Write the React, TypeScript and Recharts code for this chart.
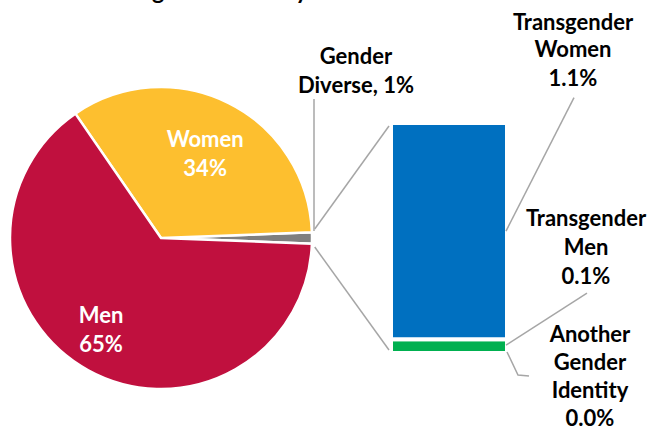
import React from 'react';
import { PieChart, Pie, Cell, BarChart, Bar, XAxis, YAxis, LabelList } from 'recharts';

// ---------- data ----------
const titleLead = 'Student';
const titleRest = 'gender identity';

const pieCategories = ['Gender Diverse', 'Women', 'Men'];
const pieValues = [1.2, 34, 64.8];
const pieValueLabels = ['1%', '34%', '65%'];
const pieColors = ['#7F7F7F', '#FDBF2F', '#C0103E'];

const barCategories = ['Another Gender Identity', 'Transgender Men', 'Transgender Women'];
const barKeys = ['another', 'transMen', 'transWomen'];
const barValues = [0.0, 0.07, 1.1];
const barValueLabels = ['0.0%', '0.1%', '1.1%'];
const barColors = ['#7F7F7F', '#00B050', '#0070C0'];

// ---------- layout ----------
const W = 651;
const H = 430;
const FONT = "Lato, 'Open Sans', sans-serif";
const FS = 22;
const PIE_CX = 161;
const PIE_CY = 238;
const PIE_R = 151;
const BAR_MARGIN = { top: 123, right: 144, bottom: 77, left: 391 };
const LINE = '#A6A6A6';
const RAD = Math.PI / 180;

const pieTotal = pieValues.reduce((a, b) => a + b, 0);
const halfAngle = (pieValues[0] / pieTotal) * 180;
const pieData = pieCategories.map((name, i) => ({ name, value: pieValues[i] }));

const barTotal = barValues.reduce((a, b) => a + b, 0);
const barRow: Record<string, any> = { name: 'Gender Diverse' };
barKeys.forEach((k, i) => {
  barRow[k] = barValues[i];
});
const barData = [barRow];

const LABEL_R = [0, 94, 110];
const LABEL_SHIFT = [
  [0, 0],
  [2, 1],
  [-7, -4],
];

const txt = (x: number, y: number, s: string, fill = '#000', size = FS, key?: any) => (
  <text
    key={key}
    x={x}
    y={y}
    textAnchor="middle"
    fill={fill}
    fontFamily={FONT}
    fontWeight={700}
    fontSize={size}
  >
    {s}
  </text>
);

const renderPieLabel = (props: any) => {
  const { cx, cy, midAngle, outerRadius, index } = props;
  if (index === 0) {
    const ox = cx + outerRadius + 2;
    const words = pieCategories[0].split(' ');
    return (
      <g>
        <line x1={ox} y1={cy - 7} x2={ox} y2={cy - 139} stroke={LINE} strokeWidth={1.5} />
        {txt(cx + outerRadius + 44, cy - 174.5, words[0])}
        {txt(cx + outerRadius + 44, cy - 145.5, `${words.slice(1).join(' ')}, ${pieValueLabels[0]}`)}
      </g>
    );
  }
  const r = LABEL_R[index];
  const x = cx + r * Math.cos(-midAngle * RAD) + LABEL_SHIFT[index][0];
  const y = cy + r * Math.sin(-midAngle * RAD) + LABEL_SHIFT[index][1];
  return (
    <g>
      {txt(x, y - 7.5, pieCategories[index], '#fff')}
      {txt(x, y + 21.5, pieValueLabels[index], '#fff')}
    </g>
  );
};

const piePoint = (deg: number) => ({
  x: PIE_CX + (PIE_R + 3) * Math.cos(deg * RAD),
  y: PIE_CY - (PIE_R + 3) * Math.sin(deg * RAD),
});

const getBox = (props: any) => {
  const vb = props.viewBox && props.viewBox.width !== undefined ? props.viewBox : props;
  return { x: Number(vb.x), y: Number(vb.y), width: Number(vb.width), height: Number(vb.height) };
};

// label for the zero-height "Another Gender Identity" segment, anchored at the stack bottom
const anotherLabel = (ax: number, ay: number, barLeft: number) => {
  const lines = [...barCategories[0].split(' '), barValueLabels[0]];
  const p = piePoint(-halfAngle - 1.2);
  const base = [ay - 11, ay + 17, ay + 45, ay + 73];
  return (
    <g>
      <polyline
        points={`${ax},${ay - 1} ${ax + 11},${ay + 22} ${ax + 22},${ay + 23}`}
        fill="none"
        stroke={LINE}
        strokeWidth={1.5}
      />
      <line x1={p.x} y1={p.y} x2={barLeft - 2} y2={ay - 3} stroke={LINE} strokeWidth={1.5} />
      {lines.map((s, k) => txt(ax + 83, base[k], s, '#000', FS, k))}
    </g>
  );
};

const makeBarLabel = (i: number) => (props: any) => {
  const { x, y, width, height } = getBox(props);
  const lines = [...barCategories[i].split(' '), barValueLabels[i]];
  const ax = x + width;
  if (i === 2) {
    const ay = y + height / 2;
    const p = piePoint(halfAngle + 1.2);
    const base = [ay - 201.5, ay - 174.5, ay - 145.5];
    return (
      <g>
        <line x1={ax - 1} y1={ay} x2={ax + 67} y2={ay - 133.5} stroke={LINE} strokeWidth={1.5} />
        <line x1={p.x} y1={p.y} x2={x - 2} y2={y + 3} stroke={LINE} strokeWidth={1.5} />
        {lines.map((s, k) => txt(ax + 66, base[k], s, '#000', FS, k))}
      </g>
    );
  }
  if (i === 1) {
    const ay = y + height / 2;
    const base = [ay - 120, ay - 91, ay - 62.5];
    return (
      <g>
        <line x1={ax - 1} y1={ay - 1} x2={ax + 80} y2={ay - 53} stroke={LINE} strokeWidth={1.5} />
        {lines.map((s, k) => txt(ax + 79, base[k], s, '#000', FS, k))}
        {anotherLabel(ax, y + height, x)}
      </g>
    );
  }
  return null;
};

export default function App() {
  return (
    <div style={{ position: 'absolute', left: 0, top: 0, width: W, height: H, background: '#fff' }}>
      <div style={{ position: 'absolute', left: 0, top: 0 }}>
        <PieChart width={W} height={H} margin={{ top: 0, right: 0, bottom: 0, left: 0 }}>
          <text x={147} y={-1} textAnchor="end" fontFamily={FONT} fontWeight={700} fontSize={23} fill="#000">
            {titleLead}
          </text>
          <text x={152} y={-1} textAnchor="start" fontFamily={FONT} fontWeight={700} fontSize={23} fill="#000">
            {titleRest}
          </text>
          <Pie
            data={pieData}
            dataKey="value"
            nameKey="name"
            cx={PIE_CX}
            cy={PIE_CY}
            outerRadius={PIE_R}
            startAngle={-halfAngle}
            endAngle={360 - halfAngle}
            stroke="#fff"
            strokeWidth={2.5}
            label={renderPieLabel}
            labelLine={false}
            isAnimationActive={false}
          >
            {pieData.map((d, i) => (
              <Cell key={d.name} fill={pieColors[i]} />
            ))}
          </Pie>
        </PieChart>
      </div>
      <div style={{ position: 'absolute', left: 0, top: 0 }}>
        <BarChart width={W} height={H} data={barData} margin={BAR_MARGIN} barCategoryGap={0}>
          <XAxis dataKey="name" hide />
          <YAxis type="number" domain={[0, barTotal]} hide />
          {barKeys.map((k, i) => (
            <Bar
              key={k}
              dataKey={k}
              stackId="s"
              fill={barColors[i]}
              stroke="#fff"
              strokeWidth={4}
              isAnimationActive={false}
            >
              <LabelList dataKey={k} content={makeBarLabel(i)} />
            </Bar>
          ))}
        </BarChart>
      </div>
    </div>
  );
}
